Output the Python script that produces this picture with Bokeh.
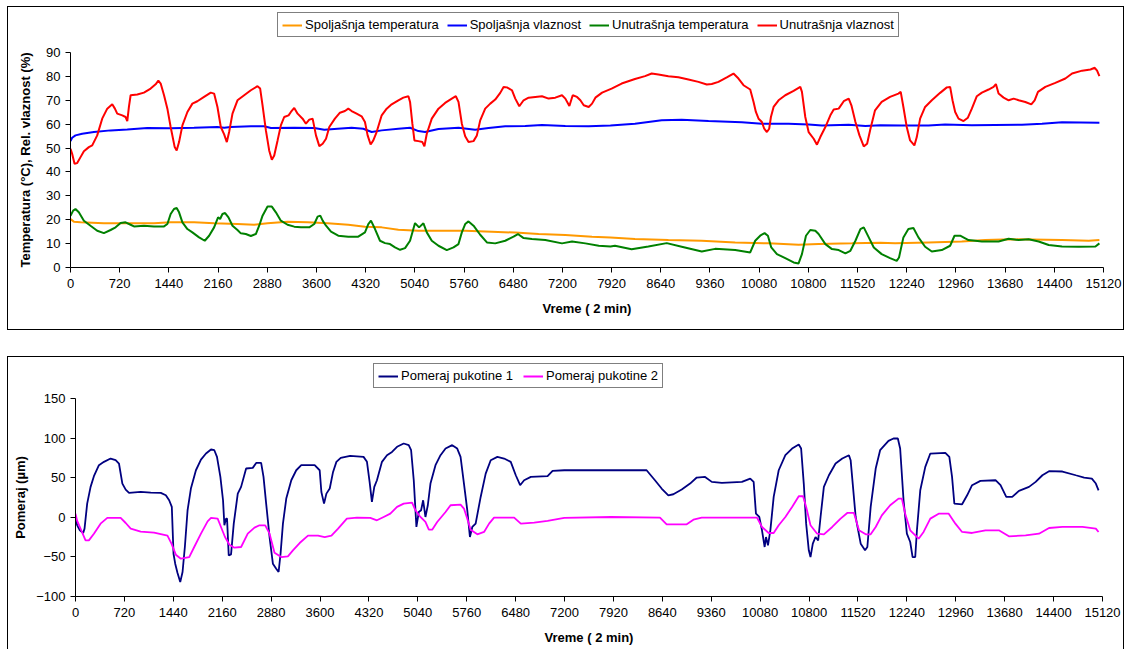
from bokeh.plotting import figure
from bokeh.layouts import column
from bokeh.models import Legend, LegendItem, FixedTicker, Range1d
from bokeh.embed import file_html
from bokeh.resources import INLINE

FONT = "Liberation Sans"

# ---------------- data (x in "Vreme (2 min)" units) ----------------
x_ticks = list(range(0, 15121, 720))
y1_ticks = list(range(0, 91, 10))
y2_ticks = list(range(-100, 151, 50))

top_labels = ["Spoljašnja temperatura", "Spoljašnja vlaznost",
              "Unutrašnja temperatura", "Unutrašnja vlaznost"]
bottom_labels = ["Pomeraj pukotine 1", "Pomeraj pukotine 2"]

# Spoljašnja temperatura (°C)
t_out = [(0, 20.3), (49, 19.2), (147, 18.9), (489, 18.5), (831, 18.5), (1222, 18.5), (1466, 18.9),
         (1809, 18.9), (2102, 18.5), (2444, 18.2), (2688, 17.9), (2884, 18.5), (3177, 19.2),
         (3471, 18.9), (3764, 18.5), (4066, 17.9), (4310, 17.1), (4555, 16.8), (4799, 15.8),
         (5092, 15.4), (5386, 15.4), (5777, 15.4), (6168, 15.0), (6510, 14.6), (6852, 14.0),
         (7243, 13.6), (7634, 12.9), (7903, 12.6), (8262, 11.9), (8751, 11.5), (9240, 11.2),
         (9729, 10.5), (10217, 10.1), (10657, 9.5), (10950, 9.8), (11439, 10.1), (11855, 10.4),
         (12069, 10.1), (12558, 10.5), (13046, 10.9), (13389, 11.5), (13780, 11.8), (14513, 11.5),
         (14904, 11.2), (15060, 11.5)]

# Spoljašnja vlaznost (%)
rh_out = [(0, 52.9), (24, 54.3), (73, 55.3), (171, 56.0), (342, 56.7), (587, 57.4), (831, 57.8),
          (1124, 58.4), (1466, 58.3), (1809, 58.5), (2151, 58.8), (2249, 58.5), (2346, 58.8),
          (2640, 59.1), (2835, 59.1), (2933, 58.4), (3275, 58.5), (3568, 58.4), (3715, 57.7),
          (3910, 58.1), (4115, 58.5), (4286, 58.1), (4408, 56.7), (4555, 57.4), (4799, 58.1),
          (4970, 58.5), (5092, 57.1), (5190, 56.7), (5386, 58.0), (5679, 58.5), (5923, 57.7),
          (6119, 58.4), (6363, 59.1), (6656, 59.2), (6901, 59.7), (7243, 59.2), (7585, 59.1),
          (7903, 59.4), (8262, 60.2), (8653, 61.6), (8946, 61.9), (9338, 61.3), (9826, 60.8),
          (10120, 60.2), (10511, 60.2), (10804, 59.9), (11000, 59.4), (11391, 59.8), (11635, 59.2),
          (11855, 59.5), (12167, 59.4), (12558, 59.4), (12802, 59.9), (13193, 59.5), (13926, 59.8),
          (14220, 60.2), (14513, 60.8), (15060, 60.6)]

# Unutrašnja temperatura (°C)
t_in = [(0, 21.7), (39, 23.8), (73, 24.5), (122, 23.1), (196, 19.6), (293, 17.5), (391, 15.4),
        (489, 14.4), (587, 15.7), (660, 16.8), (733, 18.6), (806, 18.9), (880, 17.9), (929, 17.2),
        (1075, 17.5), (1222, 17.2), (1369, 17.2), (1418, 18.2), (1466, 22.4), (1515, 24.5),
        (1554, 24.9), (1589, 23.1), (1638, 18.9), (1711, 16.1), (1784, 14.7), (1882, 12.6),
        (1965, 11.2), (2029, 13.3), (2102, 16.8), (2160, 21.0), (2190, 20.3), (2224, 22.4),
        (2263, 22.8), (2312, 21.0), (2371, 17.5), (2444, 15.7), (2493, 14.3), (2566, 14.0),
        (2640, 13.2), (2713, 14.0), (2762, 17.5), (2811, 21.7), (2884, 25.5), (2947, 25.5),
        (3006, 23.1), (3079, 19.6), (3177, 17.9), (3275, 17.1), (3373, 16.8), (3495, 16.8),
        (3568, 18.2), (3617, 21.3), (3656, 21.7), (3691, 19.6), (3740, 17.5), (3813, 15.0),
        (3919, 13.3), (4066, 12.9), (4212, 12.9), (4310, 14.7), (4359, 18.2), (4398, 19.6),
        (4457, 16.1), (4530, 11.2), (4604, 10.2), (4677, 9.8), (4750, 8.4), (4824, 7.4),
        (4897, 8.1), (4970, 11.2), (5043, 18.6), (5102, 16.8), (5166, 18.5), (5215, 14.7),
        (5288, 11.2), (5386, 9.1), (5508, 7.3), (5606, 8.4), (5679, 9.8), (5728, 14.7),
        (5777, 18.2), (5826, 19.3), (5899, 17.5), (5997, 13.7), (6095, 10.5), (6217, 10.1),
        (6363, 11.2), (6485, 12.9), (6549, 14.0), (6632, 12.3), (6754, 11.9), (6950, 11.5),
        (7194, 10.1), (7341, 10.9), (7536, 10.1), (7732, 9.1), (7903, 8.8), (7969, 9.1),
        (8213, 7.6), (8458, 8.8), (8727, 10.2), (8946, 8.7), (9240, 6.7), (9435, 7.8),
        (9729, 7.3), (9949, 6.3), (10022, 11.2), (10095, 13.3), (10159, 14.4), (10208, 13.3),
        (10257, 8.4), (10340, 5.6), (10462, 3.9), (10584, 2.1), (10657, 1.7), (10706, 5.6),
        (10765, 13.3), (10828, 15.7), (10902, 15.4), (10950, 14.0), (11049, 9.8), (11146, 7.7),
        (11244, 7.3), (11342, 5.9), (11415, 7.0), (11489, 11.2), (11562, 16.1), (11611, 16.8),
        (11684, 12.6), (11758, 8.4), (11873, 5.6), (11996, 3.9), (12093, 2.8), (12127, 4.2),
        (12191, 12.6), (12264, 16.1), (12338, 16.5), (12411, 12.6), (12509, 8.7), (12607, 6.7),
        (12753, 7.3), (12875, 9.1), (12939, 13.3), (13022, 13.3), (13144, 11.5), (13340, 10.9),
        (13584, 10.9), (13731, 12.0), (13878, 11.5), (14024, 11.8), (14171, 10.9), (14318, 9.4),
        (14513, 8.8), (14758, 8.7), (15002, 8.8), (15060, 10.1)]

# Unutrašnja vlaznost (%)
rh_in = [(0, 49.7), (24, 47.6), (59, 43.4), (98, 43.7), (147, 46.2), (196, 48.7), (269, 50.4),
         (318, 51.1), (391, 55.3), (464, 62.3), (538, 66.5), (611, 68.3), (650, 66.5), (684, 64.4),
         (758, 63.7), (806, 63.0), (831, 61.3), (855, 67.2), (880, 72.1), (978, 72.4), (1075, 73.2),
         (1173, 74.9), (1246, 76.7), (1286, 78.2), (1320, 77.0), (1369, 72.1), (1418, 66.5),
         (1466, 58.8), (1525, 50.4), (1554, 49.0), (1589, 52.5), (1638, 59.5), (1711, 65.1),
         (1784, 68.6), (1857, 69.6), (1955, 71.4), (2053, 73.2), (2102, 72.8), (2151, 67.2),
         (2200, 58.8), (2249, 55.7), (2288, 52.5), (2322, 56.7), (2371, 64.4), (2444, 70.0),
         (2542, 72.1), (2640, 74.2), (2737, 75.9), (2776, 74.9), (2811, 67.9), (2860, 57.4),
         (2908, 49.0), (2947, 45.1), (2982, 46.9), (3031, 53.2), (3079, 59.5), (3128, 63.0),
         (3192, 63.7), (3226, 65.1), (3275, 66.8), (3324, 64.4), (3397, 62.3), (3446, 60.2),
         (3495, 61.9), (3544, 62.3), (3593, 55.3), (3642, 50.8), (3691, 51.8), (3740, 53.9),
         (3788, 58.8), (3870, 62.3), (3944, 64.8), (4017, 65.5), (4066, 66.5), (4115, 65.5),
         (4188, 64.4), (4261, 63.3), (4310, 60.9), (4349, 55.3), (4393, 51.5), (4432, 53.2),
         (4481, 56.7), (4555, 63.7), (4628, 66.5), (4701, 68.3), (4799, 70.0), (4872, 71.1),
         (4946, 71.7), (4970, 69.3), (5004, 60.2), (5034, 53.2), (5092, 52.9), (5151, 52.5),
         (5180, 50.7), (5215, 56.0), (5288, 62.3), (5386, 66.5), (5483, 68.9), (5581, 70.7),
         (5640, 71.7), (5679, 69.3), (5728, 60.2), (5777, 54.9), (5826, 52.5), (5899, 52.9),
         (5948, 55.3), (5997, 61.6), (6070, 66.5), (6144, 68.6), (6217, 70.3), (6290, 73.1),
         (6339, 75.6), (6388, 75.4), (6461, 74.2), (6510, 70.7), (6569, 67.5), (6632, 70.0),
         (6705, 71.1), (6803, 71.4), (6901, 71.7), (6998, 70.7), (7096, 71.1), (7194, 72.1),
         (7243, 70.7), (7302, 67.6), (7351, 72.1), (7414, 71.4), (7463, 70.0), (7512, 67.9),
         (7585, 67.2), (7634, 68.6), (7683, 71.1), (7781, 73.2), (7920, 74.9), (8067, 77.0),
         (8262, 78.9), (8409, 80.1), (8507, 81.2), (8605, 80.8), (8751, 80.1), (8898, 79.6),
         (9045, 78.7), (9191, 77.7), (9313, 76.6), (9386, 76.8), (9484, 77.7), (9606, 79.6),
         (9704, 81.2), (9777, 79.1), (9851, 76.3), (9949, 74.5), (9998, 69.3), (10032, 65.1),
         (10071, 62.3), (10120, 60.9), (10154, 58.1), (10193, 56.7), (10227, 58.1), (10252, 63.0),
         (10291, 67.2), (10364, 70.0), (10462, 72.1), (10584, 73.9), (10682, 75.6), (10706, 73.5),
         (10755, 63.0), (10804, 56.7), (10878, 53.9), (10926, 51.4), (10975, 54.6), (11049, 58.8),
         (11122, 63.7), (11171, 66.1), (11244, 66.5), (11318, 69.6), (11391, 70.7), (11430, 67.9),
         (11489, 60.9), (11548, 55.3), (11611, 50.7), (11660, 51.8), (11709, 58.1), (11776, 65.8),
         (11873, 69.3), (11996, 71.4), (12118, 72.8), (12152, 73.5), (12191, 67.2), (12240, 58.8),
         (12289, 53.2), (12352, 51.1), (12387, 54.6), (12436, 62.3), (12509, 67.2), (12607, 70.0),
         (12729, 73.1), (12827, 75.4), (12875, 75.6), (12910, 70.0), (12949, 65.1), (12998, 62.3),
         (13071, 61.3), (13135, 62.7), (13193, 66.5), (13266, 71.7), (13340, 73.2), (13438, 74.5),
         (13511, 75.6), (13545, 76.8), (13584, 72.8), (13658, 71.1), (13731, 70.0), (13805, 70.7),
         (13878, 70.0), (13976, 69.3), (14063, 68.3), (14112, 70.0), (14161, 73.5), (14269, 75.6),
         (14415, 77.3), (14562, 79.1), (14660, 81.2), (14807, 82.4), (14929, 82.9), (14992, 83.6),
         (15026, 82.4), (15060, 80.1)]

# Pomeraj pukotine 1 (µm)
crack1 = [(0, -1.7), (25, -10.1), (64, -16.4), (113, -19.8), (133, -14.3), (172, 17.3), (222, 38.4),
          (271, 51.9), (345, 65.8), (419, 70.0), (517, 74.2), (591, 72.1), (640, 67.9), (690, 42.6),
          (739, 35.0), (788, 30.8), (960, 32.0), (1108, 31.2), (1256, 30.8), (1330, 27.8),
          (1379, 21.5), (1418, 13.1), (1443, -46.0), (1468, -58.6), (1502, -70.4), (1542, -81.8),
          (1576, -69.1), (1610, -37.5), (1650, 8.9), (1699, 36.3), (1773, 59.4), (1847, 72.9),
          (1921, 80.5), (1995, 85.6), (2044, 84.7), (2083, 76.3), (2133, 51.0), (2172, 21.5),
          (2192, -10.1), (2216, -1.7), (2231, -1.7), (2256, -48.1), (2290, -46.8), (2330, -8.0),
          (2389, 29.9), (2438, 38.4), (2512, 61.6), (2610, 62.4), (2660, 68.7), (2733, 68.7),
          (2768, 51.0), (2807, 17.3), (2857, -24.9), (2906, -58.6), (2955, -64.9), (2990, -69.1),
          (3019, -46.0), (3054, -8.0), (3103, 23.6), (3177, 46.8), (3250, 59.4), (3324, 65.8),
          (3521, 65.8), (3595, 59.4), (3620, 32.0), (3659, 17.3), (3694, 29.9), (3743, 36.3),
          (3792, 57.3), (3841, 70.0), (3905, 75.0), (4044, 77.6), (4241, 76.3), (4291, 70.0),
          (4330, 44.7), (4364, 19.4), (4399, 38.4), (4438, 46.8), (4512, 70.0), (4586, 78.4),
          (4660, 82.6), (4734, 89.0), (4832, 93.2), (4906, 91.1), (4941, 84.7), (4980, 46.8),
          (5019, -12.2), (5054, 6.7), (5088, 8.9), (5118, 21.5), (5152, 0.4), (5187, 15.2),
          (5226, 42.6), (5300, 65.8), (5374, 78.4), (5448, 86.8), (5546, 91.1), (5620, 86.8),
          (5669, 76.3), (5719, 42.6), (5768, 8.9), (5807, -24.9), (5842, -12.2), (5891, -8.0),
          (5965, 25.7), (6039, 55.2), (6113, 72.1), (6211, 76.3), (6310, 74.2), (6408, 70.0),
          (6482, 53.1), (6546, 40.5), (6605, 46.8), (6704, 51.0), (6950, 51.9), (7024, 58.6),
          (7196, 59.4), (8408, 59.4), (8531, 46.8), (8629, 36.3), (8728, 27.8), (8802, 29.1),
          (8925, 35.0), (9048, 42.6), (9146, 50.2), (9269, 51.0), (9368, 44.7), (9516, 43.4),
          (9811, 44.7), (9934, 48.9), (9984, 44.7), (10018, 4.6), (10067, 0.4), (10107, -16.4),
          (10146, -37.5), (10166, -24.9), (10195, -35.4), (10230, -16.4), (10279, 25.7),
          (10353, 59.4), (10451, 78.4), (10550, 86.8), (10648, 91.9), (10683, 86.8), (10722, 42.6),
          (10757, -8.0), (10796, -41.7), (10821, -50.2), (10855, -33.3), (10895, -24.9),
          (10934, -29.1), (10969, 0.4), (11018, 38.4), (11092, 53.1), (11190, 67.9), (11289, 74.2),
          (11387, 78.4), (11412, 72.1), (11486, 0.4), (11560, -33.3), (11624, -41.7), (11658, -37.5),
          (11707, 13.1), (11781, 61.6), (11846, 84.7), (11969, 96.5), (12043, 99.5), (12107, 99.5),
          (12141, 86.8), (12191, 21.5), (12240, -20.7), (12289, -31.2), (12324, -50.2),
          (12363, -50.2), (12388, -16.4), (12437, 34.1), (12511, 63.7), (12585, 80.5), (12806, 81.4),
          (12865, 76.3), (12905, 51.0), (12939, 17.3), (13053, 16.4), (13127, 27.8), (13200, 40.5),
          (13323, 46.0), (13545, 46.8), (13619, 40.5), (13703, 25.7), (13791, 25.7), (13890, 33.3),
          (14038, 38.4), (14136, 44.7), (14235, 53.1), (14333, 58.2), (14530, 57.8), (14727, 53.1),
          (14850, 50.2), (14963, 48.9), (15022, 42.6), (15062, 34.1)]

# Pomeraj pukotine 2 (µm)
crack2 = [(0, 4.6), (25, -4.6), (74, -14.3), (148, -29.1), (197, -29.1), (271, -20.7), (369, -8.0),
          (468, -0.8), (665, -0.8), (739, -7.2), (813, -14.3), (960, -18.1), (1157, -19.4),
          (1354, -23.2), (1413, -33.3), (1477, -47.2), (1551, -52.3), (1674, -50.2), (1748, -37.5),
          (1847, -20.7), (1945, -5.1), (1995, -0.8), (2093, -1.7), (2142, -12.2), (2201, -24.9),
          (2266, -34.6), (2339, -38.4), (2438, -37.5), (2536, -20.7), (2635, -13.1), (2709, -10.1),
          (2793, -10.1), (2857, -20.7), (2930, -44.7), (3029, -50.2), (3127, -49.3), (3201, -41.7),
          (3300, -32.5), (3423, -23.2), (3571, -23.2), (3669, -24.9), (3768, -23.2), (3866, -14.3),
          (3995, -1.7), (4143, -0.4), (4340, -0.8), (4438, -3.8), (4537, 0.4), (4635, 4.6),
          (4734, 13.1), (4832, 17.3), (4955, 18.5), (5005, 8.9), (5078, 0.4), (5152, -5.9),
          (5202, -15.6), (5251, -15.6), (5325, -5.9), (5448, 6.7), (5522, 15.2), (5669, 16.0),
          (5719, 11.0), (5768, -1.7), (5817, -15.6), (5916, -21.5), (6015, -18.5), (6089, -8.0),
          (6162, -0.4), (6458, -0.4), (6556, -8.0), (6753, -6.7), (6950, -4.6), (7196, -0.8),
          (7886, 0.4), (8605, -0.4), (8703, -8.9), (8999, -8.9), (9097, -3.0), (9220, -0.4),
          (10033, -0.4), (10107, -12.2), (10205, -19.8), (10279, -19.8), (10353, -10.1),
          (10451, 0.4), (10550, 13.1), (10648, 26.6), (10712, 26.6), (10757, 13.1), (10821, -10.1),
          (10919, -20.7), (11018, -21.5), (11141, -12.2), (11264, -1.7), (11362, 5.5), (11461, 5.5),
          (11535, -16.4), (11634, -21.5), (11707, -21.5), (11781, -12.2), (11871, 2.5),
          (11994, 15.2), (12117, 23.6), (12166, 23.6), (12215, 4.6), (12289, -16.4), (12413, -27.0),
          (12486, -18.5), (12585, -1.7), (12708, 4.6), (12856, 4.6), (12954, -8.0), (13053, -18.5),
          (13200, -19.8), (13397, -16.4), (13594, -16.4), (13742, -24.0), (13988, -22.8),
          (14185, -20.7), (14333, -13.5), (14530, -12.2), (14825, -12.2), (15022, -14.3),
          (15062, -18.5)]

top_series = [t_out, rh_out, t_in, rh_in]
top_colors = ["#FF9900", "#0000FF", "#008000", "#FF0000"]
bottom_series = [crack1, crack2]
bottom_colors = ["#000080", "#FF00FF"]

BORDER = "1px solid black"


def no_align(f):
    if "frame_align" in f.properties():
        f.frame_align = False


def style_axes(p, xlabel, ylabel, yticks, y_title_standoff):
    p.xaxis.ticker = FixedTicker(ticks=x_ticks)
    p.yaxis.ticker = FixedTicker(ticks=yticks)
    p.xgrid.visible = False
    p.ygrid.visible = False
    p.outline_line_color = None
    for ax in (p.xaxis[0], p.yaxis[0]):
        ax.axis_line_color = "black"
        ax.axis_line_width = 1
        ax.major_tick_line_color = "black"
        ax.major_tick_out = 5
        ax.major_tick_in = 0
        ax.minor_tick_line_color = None
        ax.major_label_text_font = FONT
        ax.major_label_text_font_size = "13px"
        ax.major_label_text_color = "black"
        ax.axis_label_text_font = FONT
        ax.axis_label_text_font_size = "13px"
        ax.axis_label_text_font_style = "bold"
        ax.axis_label_text_color = "black"
    p.xaxis.axis_label = xlabel
    p.yaxis.axis_label = ylabel
    p.xaxis.major_label_standoff = 6
    p.xaxis.axis_label_standoff = 10
    p.yaxis.major_label_standoff = 5
    p.yaxis.axis_label_standoff = y_title_standoff


def legend_strip(height, labels, colors, loc, spacing, styles):
    """A strip above a chart that holds only its horizontal legend."""
    lf = figure(width=1117, height=height, output_backend="svg", toolbar_location=None,
                x_axis_type=None, y_axis_type=None, x_range=Range1d(0, 1), y_range=Range1d(0, 1),
                min_border=0, styles=styles)
    no_align(lf)
    lf.outline_line_color = None
    lf.xgrid.visible = False
    lf.ygrid.visible = False
    # swatch renderers: their points lie outside this strip's ranges, so only the legend shows
    rs = [lf.line(x=[5, 6], y=[5, 6], line_color=c, line_width=2) for c in colors]
    items = [LegendItem(label=l, renderers=[r]) for l, r in zip(labels, rs)]
    leg = Legend(items=items, orientation="horizontal", location=loc,
                 border_line_color="black", border_line_width=1,
                 background_fill_color="white", background_fill_alpha=1.0,
                 label_text_font=FONT, label_text_font_size="13px",
                 label_text_color="black", label_standoff=3,
                 glyph_width=20, glyph_height=14, label_height=14,
                 spacing=spacing, padding=4, margin=0)
    lf.add_layout(leg)
    return lf


# ---------------- top chart ----------------
L1 = legend_strip(36, top_labels, top_colors, (269, 6), 8,
                  {"border-top": BORDER, "border-left": BORDER, "border-right": BORDER,
                   "box-sizing": "border-box", "margin-left": "7px", "margin-top": "6px"})

p1 = figure(width=1117, height=288, output_backend="svg", toolbar_location=None,
            x_range=Range1d(0, 15120), y_range=Range1d(0, 90),
            min_border_left=62, min_border_right=22, min_border_top=10, min_border_bottom=63,
            styles={"border-left": BORDER, "border-right": BORDER, "border-bottom": BORDER,
                    "box-sizing": "border-box", "margin-left": "7px"})
no_align(p1)
style_axes(p1, "Vreme ( 2 min)", "Temperatura (°C), Rel. vlaznost (%)", y1_ticks, 10)
for s, c in zip(top_series, top_colors):
    p1.line([v[0] for v in s], [v[1] for v in s], line_color=c, line_width=2)

# ---------------- bottom chart ----------------
L2 = legend_strip(33, bottom_labels, bottom_colors, (365, 2), 10,
                  {"border-top": BORDER, "border-left": BORDER, "border-right": BORDER,
                   "box-sizing": "border-box", "margin-left": "7px", "margin-top": "26px"})

p2 = figure(width=1117, height=260, output_backend="svg", toolbar_location=None,
            x_range=Range1d(0, 15120), y_range=Range1d(-100, 150),
            min_border_left=67, min_border_right=23, min_border_top=9, min_border_bottom=53,
            styles={"border-left": BORDER, "border-right": BORDER,
                    "box-sizing": "border-box", "margin-left": "7px"})
no_align(p2)
style_axes(p2, "Vreme ( 2 min)", "Pomeraj (µm)", y2_ticks, 5)
for s, c in zip(bottom_series, bottom_colors):
    p2.line([v[0] for v in s], [v[1] for v in s], line_color=c, line_width=1.8)

layout = column(L1, p1, L2, p2, spacing=0)
open("out.html", "w").write(file_html(layout, INLINE))
